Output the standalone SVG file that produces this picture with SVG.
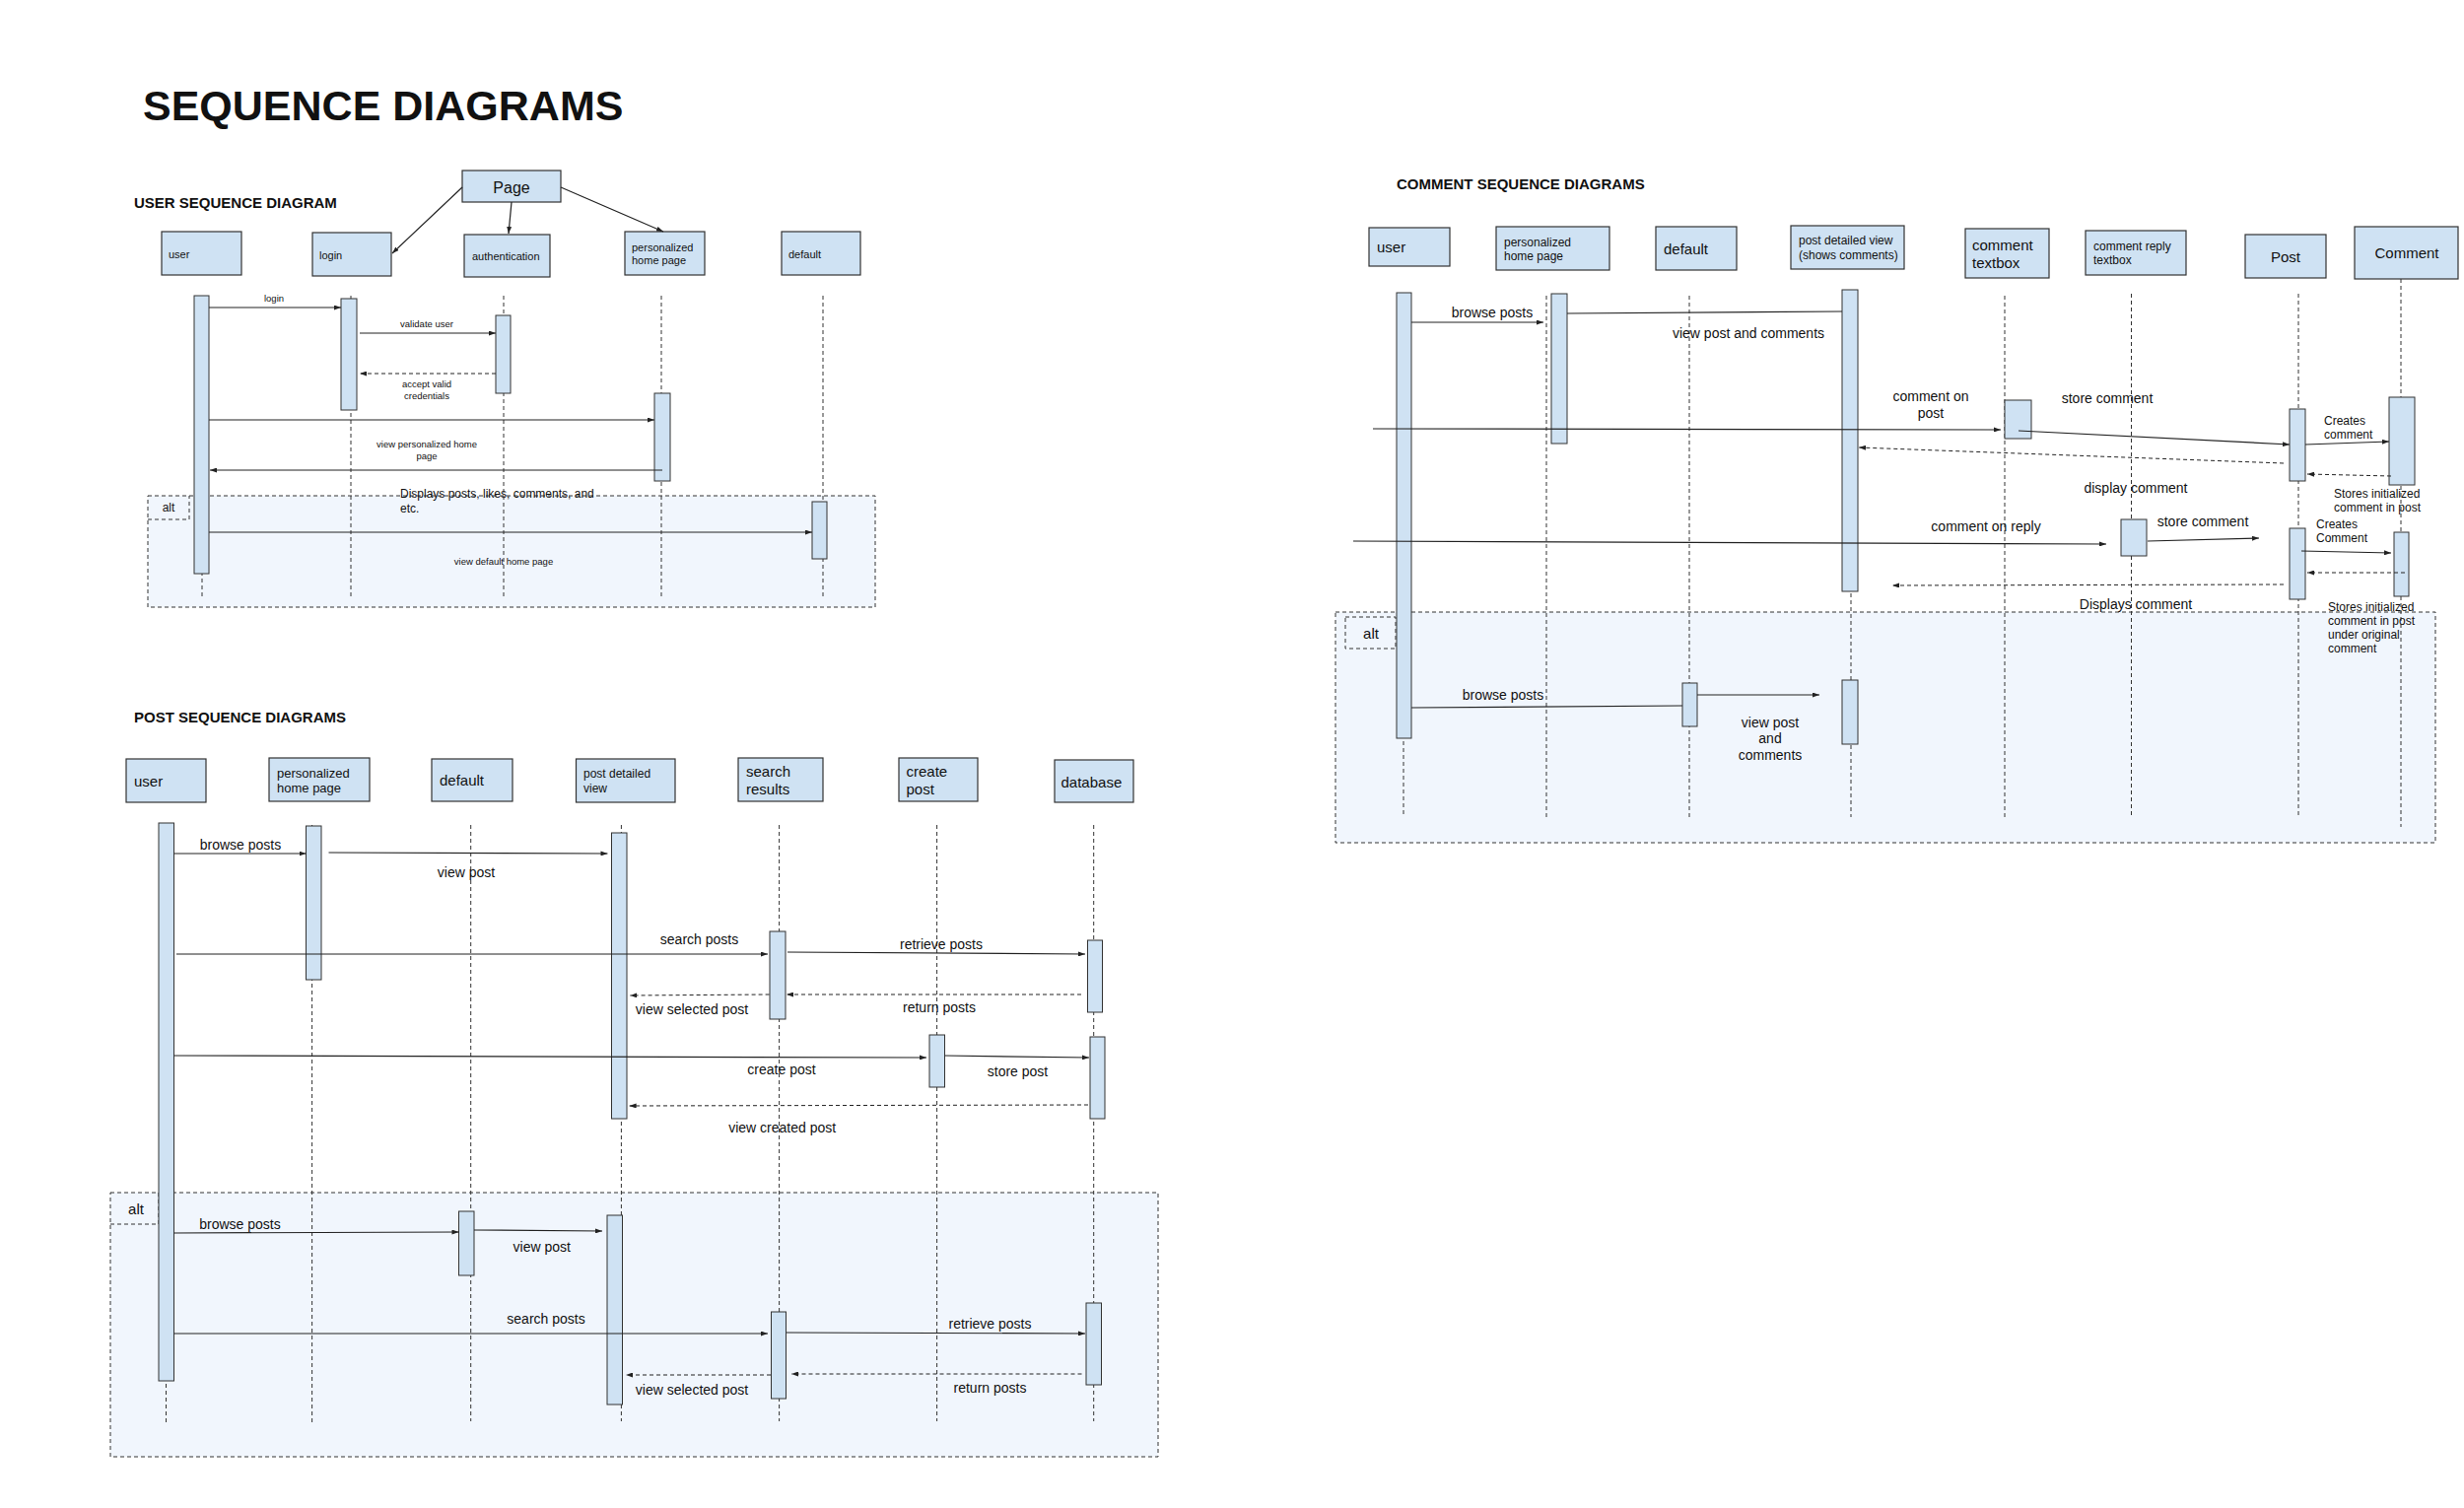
<svg xmlns="http://www.w3.org/2000/svg" width="2500" height="1530" viewBox="0 0 2500 1530">
<style>
text{font-family:"Liberation Sans",Arial,Helvetica,sans-serif;fill:#111}
.h{font-weight:bold}
.box{fill:#cfe2f3;stroke:#333;stroke-width:1.2}
.act{fill:#cfe2f3;stroke:#333;stroke-width:1}
.life{stroke:#333;stroke-width:1;stroke-dasharray:4 3;fill:none}
.msg{stroke:#222;stroke-width:1.2;fill:none;marker-end:url(#ah)}
.line{stroke:#222;stroke-width:1.2;fill:none}
.ret{stroke:#222;stroke-width:1;stroke-dasharray:4 3;fill:none;marker-end:url(#ah)}
.frame{fill:#f1f6fd;stroke:#333;stroke-width:1;stroke-dasharray:4 3}
.tag{fill:none;stroke:#333;stroke-width:1;stroke-dasharray:4 3}
.s95{font-size:9.5px}
.s11{font-size:11px}
.s12{font-size:12px}
.s13{font-size:13px}
.s14{font-size:14px}
.s15{font-size:15px}
.m{text-anchor:middle}
</style>
<defs>
<marker id="ah" viewBox="0 0 7 5" refX="7" refY="2.5" markerWidth="7" markerHeight="5" markerUnits="userSpaceOnUse" orient="auto">
<path d="M0,0 L7,2.5 L0,5 z" fill="#222"/>
</marker>
</defs>
<rect width="2500" height="1530" fill="#fff"/>
<text class="h" x="145" y="122" font-size="43">SEQUENCE DIAGRAMS</text>

<!-- ================= USER SEQUENCE DIAGRAM ================= -->
<g id="user-diagram">
<text class="h s15" x="136" y="211">USER SEQUENCE DIAGRAM</text>
<g id="u-alt">
<rect class="frame" x="150" y="503" width="738" height="113"/>
<path class="tag" d="M150,527 H192 V503"/>
<text class="s12 m" x="171" y="519">alt</text>
</g>
<g id="u-page"><rect class="box" x="469" y="173" width="100" height="32"/><text class="m" font-size="16" x="519" y="196">Page</text></g>
<g id="u-user"><rect class="box" x="164" y="235" width="81" height="44"/><text class="s11" x="171" y="262">user</text></g>
<g id="u-login"><rect class="box" x="317" y="236" width="80" height="44"/><text class="s11" x="324" y="263">login</text></g>
<g id="u-auth"><rect class="box" x="471" y="238" width="87" height="43"/><text class="s11" x="479" y="264">authentication</text></g>
<g id="u-home"><rect class="box" x="634" y="235" width="81" height="44"/><text class="s11" x="641" y="255">personalized</text><text class="s11" x="641" y="268">home page</text></g>
<g id="u-default"><rect class="box" x="793" y="235" width="80" height="44"/><text class="s11" x="800" y="262">default</text></g>
<g id="u-lifelines">
<line class="life" x1="205" y1="300" x2="205" y2="608"/>
<line class="life" x1="356" y1="300" x2="356" y2="608"/>
<line class="life" x1="511" y1="300" x2="511" y2="608"/>
<line class="life" x1="671" y1="300" x2="671" y2="608"/>
<line class="life" x1="835" y1="300" x2="835" y2="608"/>
</g>
<g id="u-activations">
<rect class="act" x="197" y="300" width="15" height="282"/>
<rect class="act" x="346" y="303" width="16" height="113"/>
<rect class="act" x="503" y="320" width="15" height="79"/>
<rect class="act" x="664" y="399" width="16" height="89"/>
<rect class="act" x="824" y="509" width="15" height="58"/>
</g>
<g id="u-connectors">
<path class="msg" d="M469,190 L398,257"/>
<path class="msg" d="M519,205 L516,237"/>
<path class="msg" d="M569,190 L673,235"/>
<path class="msg" d="M212,312 L346,312"/>
<path class="msg" d="M365,338 L503,338"/>
<path class="ret" d="M503,379 L365,379"/>
<path class="msg" d="M212,426 L664,426"/>
<path class="msg" d="M672,477 L213,477"/>
<path class="msg" d="M212,540 L824,540"/>
</g>
<g id="u-labels">
<text class="s95 m" x="278" y="306">login</text>
<text class="s95 m" x="433" y="332">validate user</text>
<text class="s95 m" x="433" y="392.5">accept valid</text>
<text class="s95 m" x="433" y="404.5">credentials</text>
<text class="s95 m" x="433" y="453.5">view personalized home</text>
<text class="s95 m" x="433" y="465.5">page</text>
<text class="s12" x="406" y="505">Displays posts, likes, comments, and</text>
<text class="s12" x="406" y="520">etc.</text>
<text class="s95 m" x="511" y="572.5">view default home page</text>
</g>
</g>

<!-- ================= COMMENT SEQUENCE DIAGRAMS ================= -->
<g id="comment-diagram">
<text class="h s15" x="1417" y="192">COMMENT SEQUENCE DIAGRAMS</text>
<g id="c-alt">
<rect class="frame" x="1355" y="621" width="1116" height="234"/>
<rect class="tag" x="1365" y="626" width="51" height="32"/>
<text class="s15 m" x="1391" y="648">alt</text>
</g>
<g id="c-user"><rect class="box" x="1389" y="231" width="82" height="39"/><text class="s15" x="1397" y="256">user</text></g>
<g id="c-home"><rect class="box" x="1518" y="230" width="115" height="44"/><text class="s12" x="1526" y="250">personalized</text><text class="s12" x="1526" y="264">home page</text></g>
<g id="c-default"><rect class="box" x="1680" y="230" width="82" height="44"/><text class="s15" x="1688" y="258">default</text></g>
<g id="c-detail"><rect class="box" x="1817" y="229" width="115" height="44"/><text class="s12" x="1825" y="248">post detailed view</text><text class="s12" x="1825" y="263">(shows comments)</text></g>
<g id="c-textbox"><rect class="box" x="1994" y="232" width="85" height="50"/><text class="s15" x="2001" y="254">comment</text><text class="s15" x="2001" y="272">textbox</text></g>
<g id="c-reply"><rect class="box" x="2116" y="234" width="102" height="45"/><text class="s12" x="2124" y="254">comment reply</text><text class="s12" x="2124" y="268">textbox</text></g>
<g id="c-post"><rect class="box" x="2278" y="238" width="82" height="44"/><text class="s15 m" x="2319" y="266">Post</text></g>
<g id="c-comment"><rect class="box" x="2389" y="230" width="105" height="53"/><text class="s15 m" x="2442" y="262">Comment</text></g>
<g id="c-lifelines">
<line class="life" x1="1424" y1="297" x2="1424" y2="827"/>
<line class="life" x1="1569" y1="300" x2="1569" y2="831"/>
<line class="life" x1="1714" y1="300" x2="1714" y2="830"/>
<line class="life" x1="1878" y1="294" x2="1878" y2="829"/>
<line class="life" x1="2034" y1="300" x2="2034" y2="830"/>
<line class="life" x1="2162.5" y1="298" x2="2162.5" y2="827"/>
<line class="life" x1="2332" y1="298" x2="2332" y2="827"/>
<line class="life" x1="2436" y1="283" x2="2436" y2="839"/>
</g>
<g id="c-activations">
<rect class="act" x="1417" y="297" width="15" height="452"/>
<rect class="act" x="1574" y="298" width="16" height="152"/>
<rect class="act" x="1707" y="693" width="15" height="44"/>
<rect class="act" x="1869" y="294" width="16" height="306"/>
<rect class="act" x="1869" y="690" width="16" height="65"/>
<rect class="act" x="2034" y="406" width="27" height="39"/>
<rect class="act" x="2152" y="527" width="26" height="37"/>
<rect class="act" x="2323" y="415" width="16" height="73"/>
<rect class="act" x="2323" y="536" width="16" height="72"/>
<rect class="act" x="2424" y="403" width="26" height="89"/>
<rect class="act" x="2429" y="540" width="15" height="65"/>
</g>
<g id="c-connectors">
<path class="msg" d="M1432,327 L1566,327"/>
<path class="line" d="M1590,318 L1869,316"/>
<path class="msg" d="M1393,435 L2030,436"/>
<path class="msg" d="M2048,437 L2323,451"/>
<path class="msg" d="M2339,451 L2424,448"/>
<path class="ret" d="M2426,483 L2341,481"/>
<path class="ret" d="M2317,470 L1886,454"/>
<path class="msg" d="M1373,549 L2137,552"/>
<path class="msg" d="M2179,549 L2292,546"/>
<path class="msg" d="M2335,559 L2426,561"/>
<path class="ret" d="M2440,581 L2341,581"/>
<path class="ret" d="M2317,593 L1920,594"/>
<path class="line" d="M1432,718 L1707,716"/>
<path class="msg" d="M1722,705 L1846,705"/>
</g>
<g id="c-labels">
<text class="s14 m" x="1514" y="322">browse posts</text>
<text class="s14 m" x="1774" y="343">view post and comments</text>
<text class="s14 m" x="1959" y="407">comment on</text>
<text class="s14 m" x="1959" y="424">post</text>
<text class="s14 m" x="2138" y="409">store comment</text>
<text class="s12" x="2358" y="431">Creates</text>
<text class="s12" x="2358" y="445">comment</text>
<text class="s12" x="2368" y="505">Stores initialized</text>
<text class="s12" x="2368" y="519">comment in post</text>
<text class="s14 m" x="2167" y="500">display comment</text>
<text class="s14 m" x="2015" y="539">comment on reply</text>
<text class="s14 m" x="2235" y="534">store comment</text>
<text class="s12" x="2350" y="536">Creates</text>
<text class="s12" x="2350" y="550">Comment</text>
<text class="s14 m" x="2167" y="618">Displays comment</text>
<text class="s12" x="2362" y="620">Stores initialized</text>
<text class="s12" x="2362" y="634">comment in post</text>
<text class="s12" x="2362" y="648">under original</text>
<text class="s12" x="2362" y="662">comment</text>
<text class="s14 m" x="1525" y="710">browse posts</text>
<text class="s14 m" x="1796" y="738">view post</text>
<text class="s14 m" x="1796" y="754">and</text>
<text class="s14 m" x="1796" y="771">comments</text>
</g>
</g>

<!-- ================= POST SEQUENCE DIAGRAMS ================= -->
<g id="post-diagram">
<text class="h s15" x="136" y="733">POST SEQUENCE DIAGRAMS</text>
<g id="p-alt">
<rect class="frame" x="112" y="1210" width="1063" height="268"/>
<path class="tag" d="M112,1242 H161 V1210"/>
<text class="s15 m" x="138" y="1232">alt</text>
</g>
<g id="p-user"><rect class="box" x="128" y="770" width="81" height="44"/><text class="s15" x="136" y="798">user</text></g>
<g id="p-home"><rect class="box" x="273" y="769" width="102" height="44"/><text class="s13" x="281" y="789">personalized</text><text class="s13" x="281" y="804">home page</text></g>
<g id="p-default"><rect class="box" x="438" y="770" width="82" height="43"/><text class="s15" x="446" y="797">default</text></g>
<g id="p-detail"><rect class="box" x="584.5" y="770" width="100.5" height="44"/><text class="s12" x="592" y="789">post detailed</text><text class="s12" x="592" y="804">view</text></g>
<g id="p-search"><rect class="box" x="749" y="769" width="86" height="44"/><text class="s15" x="757" y="788">search</text><text class="s15" x="757" y="806">results</text></g>
<g id="p-create"><rect class="box" x="912" y="769" width="80" height="44"/><text class="s15" x="919.5" y="788">create</text><text class="s15" x="919.5" y="806">post</text></g>
<g id="p-database"><rect class="box" x="1070" y="771" width="80" height="43"/><text class="s15" x="1076.5" y="799">database</text></g>
<g id="p-lifelines">
<line class="life" x1="168.5" y1="837" x2="168.5" y2="1443"/>
<line class="life" x1="316.6" y1="837" x2="316.6" y2="1443"/>
<line class="life" x1="477.7" y1="837" x2="477.7" y2="1442"/>
<line class="life" x1="630.4" y1="837" x2="630.4" y2="1442"/>
<line class="life" x1="790.6" y1="837" x2="790.6" y2="1442"/>
<line class="life" x1="950.6" y1="837" x2="950.6" y2="1442"/>
<line class="life" x1="1109.7" y1="837" x2="1109.7" y2="1442"/>
</g>
<g id="p-activations">
<rect class="act" x="161" y="835" width="15.5" height="566"/>
<rect class="act" x="310.5" y="838" width="15.5" height="156"/>
<rect class="act" x="465.5" y="1229" width="15.5" height="65"/>
<rect class="act" x="620.5" y="845" width="15.5" height="290"/>
<rect class="act" x="616" y="1233" width="15.5" height="192"/>
<rect class="act" x="781" y="945" width="16" height="89"/>
<rect class="act" x="782.5" y="1331" width="15" height="88"/>
<rect class="act" x="943" y="1050" width="15.5" height="53"/>
<rect class="act" x="1103.5" y="954" width="15" height="73"/>
<rect class="act" x="1106" y="1052" width="15" height="83"/>
<rect class="act" x="1102" y="1322" width="15.5" height="83"/>
</g>
<g id="p-connectors">
<path class="msg" d="M176.5,866 L310.5,866"/>
<path class="msg" d="M333.5,865 L616.5,866"/>
<path class="msg" d="M179,968 L779,968"/>
<path class="msg" d="M799,966 L1101,968"/>
<path class="ret" d="M1097,1009 L798,1009"/>
<path class="ret" d="M780.6,1009 L639.4,1010"/>
<path class="msg" d="M176.5,1071 L940,1073"/>
<path class="msg" d="M958.6,1071 L1105,1073"/>
<path class="ret" d="M1104,1121 L638.6,1122"/>
<path class="msg" d="M176.5,1251 L465.5,1250"/>
<path class="msg" d="M481,1248 L611,1249"/>
<path class="msg" d="M176.5,1353 L779,1353"/>
<path class="msg" d="M798,1352 L1101,1353"/>
<path class="ret" d="M1097.5,1394 L803,1394"/>
<path class="ret" d="M782,1395 L635,1395"/>
</g>
<g id="p-labels">
<text class="s14 m" x="244" y="862">browse posts</text>
<text class="s14 m" x="473" y="890">view post</text>
<text class="s14 m" x="709.5" y="958">search posts</text>
<text class="s14 m" x="955" y="963">retrieve posts</text>
<text class="s14 m" x="953" y="1027">return posts</text>
<text class="s14 m" x="702" y="1029">view selected post</text>
<text class="s14 m" x="793" y="1090">create post</text>
<text class="s14 m" x="1032.5" y="1092">store post</text>
<text class="s14 m" x="793.7" y="1149">view created post</text>
<text class="s14 m" x="243.5" y="1247">browse posts</text>
<text class="s14 m" x="549.7" y="1270">view post</text>
<text class="s14 m" x="554" y="1343">search posts</text>
<text class="s14 m" x="1004.5" y="1348">retrieve posts</text>
<text class="s14 m" x="1004.5" y="1413">return posts</text>
<text class="s14 m" x="702" y="1415">view selected post</text>
</g>
</g>
</svg>
